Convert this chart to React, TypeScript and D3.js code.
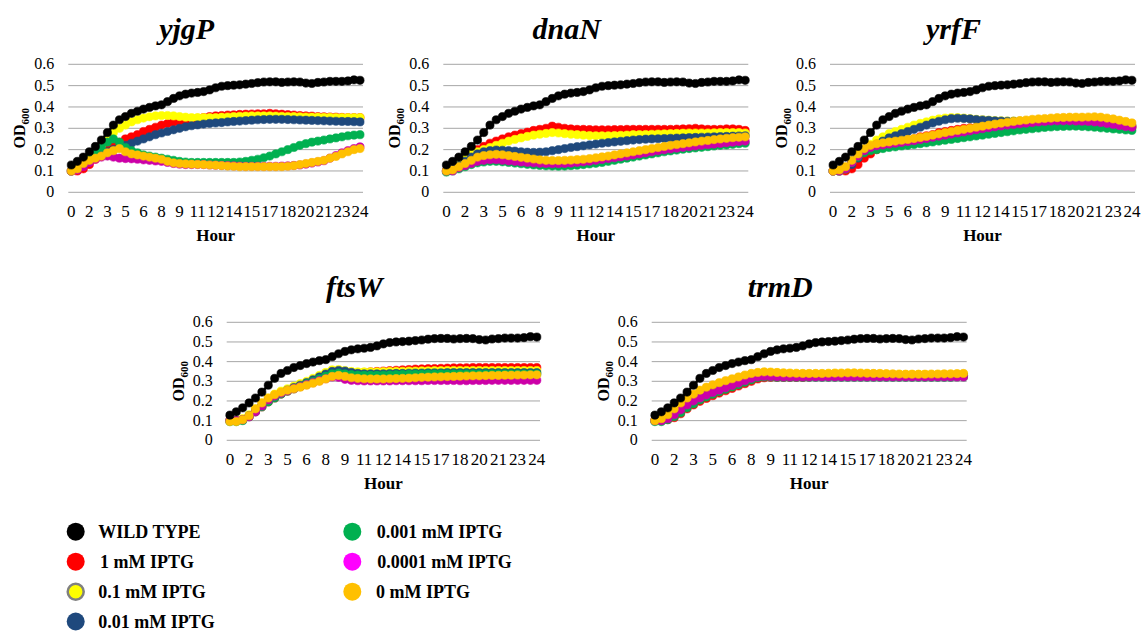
import React from "react";
import * as d3 from "d3";

const FONT = "'Times New Roman', 'Liberation Serif', serif";

// time points (hours), one reading every 30 min
const HOURS = [0,0.5,1,1.5,2,2.5,3,3.5,4,4.5,5,5.5,6,6.5,7,7.5,8,8.5,9,9.5,10,10.5,11,11.5,12,12.5,13,13.5,14,14.5,15,15.5,16,16.5,17,17.5,18,18.5,19,19.5,20,20.5,21,21.5,22,22.5,23,23.5,24];
// category labels shown every 3rd category
const X_TICK_LABELS = ["0","2","3","5","6","8","9","11","12","14","15","17","18","20","21","23","24"];
const Y_TICKS = [0,0.1,0.2,0.3,0.4,0.5,0.6];
const Y_TICK_LABELS = ["0","0.1","0.2","0.3","0.4","0.5","0.6"];
const SERIES_NAMES = ["WILD TYPE","1 mM IPTG","0.1 mM IPTG","0.01 mM IPTG","0.001 mM IPTG","0.0001 mM IPTG","0 mM IPTG"];
const GENES = ["yjgP","dnaN","yrfF","ftsW","trmD"];

const WT = [0.128,0.145,0.165,0.19,0.215,0.245,0.28,0.315,0.34,0.355,
 0.37,0.38,0.39,0.398,0.405,0.41,0.425,0.44,0.452,0.46,
 0.465,0.468,0.472,0.48,0.49,0.497,0.5,0.502,0.504,0.507,
 0.51,0.514,0.517,0.518,0.518,0.515,0.517,0.518,0.517,0.512,
 0.51,0.515,0.517,0.52,0.52,0.52,0.522,0.527,0.525];

const YJGP_1 = [.10,.10,.11,.13,.155,.18,.20,.215,.235,.25,
 .26,.27,.285,.295,.305,.315,.322,.328,.333,.338,
 .343,.347,.35,.355,.358,.36,.362,.363,.365,.366,
 .367,.368,.368,.37,.368,.366,.364,.362,.36,.358,
 .357,.355,.354,.353,.352,.351,.35,.35,.35];
const YJGP_01 = [.10,.11,.13,.16,.19,.22,.25,.28,.30,.315,
 .33,.34,.348,.354,.358,.36,.36,.358,.355,.352,
 .35,.35,.35,.35,.35,.352,.353,.355,.356,.357,
 .358,.358,.358,.358,.357,.356,.355,.355,.354,.353,
 .352,.352,.351,.351,.35,.35,.35,.35,.35];
const YJGP_001 = [.10,.11,.13,.15,.17,.18,.19,.20,.21,.22,
 .23,.24,.25,.26,.27,.278,.285,.293,.30,.307,
 .312,.316,.32,.323,.325,.327,.33,.332,.334,.336,
 .338,.34,.341,.342,.342,.342,.341,.34,.339,.338,
 .337,.336,.335,.334,.333,.332,.332,.331,.33];
const YJGP_0001 = [.10,.11,.13,.16,.19,.21,.235,.25,.235,.21,
 .195,.185,.175,.17,.165,.16,.155,.15,.145,.142,
 .14,.14,.14,.14,.14,.14,.14,.14,.142,.145,
 .15,.155,.162,.17,.18,.19,.20,.21,.22,.228,
 .235,.24,.245,.25,.255,.26,.265,.268,.27];
const YJGP_00001 = [.10,.105,.12,.14,.155,.165,.17,.165,.16,.158,
 .157,.155,.152,.15,.147,.145,.14,.135,.132,.13,
 .13,.13,.13,.128,.127,.126,.125,.124,.123,.122,
 .122,.122,.122,.122,.122,.123,.124,.126,.128,.132,
 .137,.142,.148,.16,.172,.185,.195,.205,.213];
const YJGP_0 = [.10,.11,.135,.15,.16,.17,.185,.195,.205,.19,
 .18,.175,.17,.165,.16,.155,.145,.138,.135,.133,
 .132,.131,.13,.128,.127,.125,.123,.122,.12,.12,
 .12,.12,.12,.12,.12,.12,.122,.125,.13,.135,
 .14,.145,.15,.16,.168,.18,.19,.20,.205];

const DNAN_1 = [.10,.105,.12,.15,.18,.20,.215,.23,.24,.25,
 .26,.268,.275,.282,.29,.295,.30,.31,.305,.30,
 .297,.295,.295,.294,.293,.293,.293,.294,.294,.295,
 .295,.295,.295,.295,.295,.295,.295,.296,.297,.298,
 .30,.297,.295,.295,.295,.297,.297,.295,.29];
const DNAN_01 = [.10,.12,.14,.16,.18,.19,.20,.21,.22,.23,
 .24,.248,.255,.262,.268,.272,.276,.28,.278,.275,
 .272,.27,.268,.266,.265,.265,.265,.266,.267,.268,
 .27,.27,.271,.272,.273,.274,.275,.276,.277,.278,
 .278,.278,.278,.279,.28,.28,.28,.28,.278];
const DNAN_001 = [.10,.11,.125,.145,.165,.18,.19,.195,.198,.197,
 .195,.193,.19,.188,.187,.188,.19,.195,.20,.205,
 .21,.214,.218,.222,.226,.23,.233,.236,.239,.242,
 .245,.247,.249,.25,.251,.252,.253,.254,.255,.256,
 .257,.258,.259,.26,.261,.262,.263,.264,.265];
const DNAN_0001 = [.095,.10,.11,.12,.13,.138,.142,.145,.145,.143,
 .14,.137,.134,.131,.128,.126,.124,.123,.122,.123,
 .125,.127,.13,.133,.136,.14,.145,.15,.155,.16,
 .165,.17,.175,.18,.185,.19,.194,.198,.202,.205,
 .208,.211,.214,.217,.22,.222,.225,.228,.23];
const DNAN_00001 = [.10,.10,.115,.125,.135,.145,.15,.153,.153,.15,
 .147,.145,.142,.14,.138,.136,.135,.134,.134,.135,
 .137,.14,.143,.146,.15,.154,.158,.162,.166,.17,
 .175,.18,.185,.19,.195,.199,.203,.207,.211,.214,
 .217,.22,.223,.226,.229,.232,.235,.238,.24];
const DNAN_0 = [.10,.105,.12,.135,.15,.165,.172,.176,.178,.176,
 .172,.168,.164,.16,.156,.152,.15,.149,.149,.15,
 .151,.153,.155,.158,.162,.166,.17,.175,.18,.185,
 .19,.195,.20,.205,.21,.215,.22,.224,.228,.232,
 .236,.24,.243,.247,.25,.253,.256,.258,.26];

const YRFF_1 = [.10,.10,.10,.11,.13,.16,.18,.20,.215,.225,
 .235,.24,.245,.25,.26,.265,.27,.28,.285,.29,
 .295,.30,.302,.305,.308,.31,.312,.315,.317,.319,
 .32,.322,.324,.326,.328,.33,.33,.33,.328,.325,
 .322,.318,.315,.312,.31,.308,.306,.305,.305];
const YRFF_01 = [.10,.10,.11,.14,.17,.20,.225,.245,.26,.275,
 .285,.295,.305,.315,.323,.33,.338,.344,.348,.35,
 .35,.348,.345,.342,.34,.338,.336,.335,.334,.334,
 .334,.334,.334,.334,.334,.334,.333,.332,.331,.33,
 .328,.326,.324,.322,.32,.318,.316,.313,.31];
const YRFF_001 = [.10,.10,.11,.13,.16,.19,.21,.225,.24,.255,
 .265,.275,.285,.295,.305,.315,.325,.333,.34,.345,
 .347,.346,.344,.341,.339,.337,.335,.334,.333,.333,
 .333,.333,.333,.333,.333,.333,.333,.332,.331,.33,
 .329,.327,.325,.323,.321,.319,.317,.314,.31];
const YRFF_0001 = [.10,.10,.11,.14,.165,.185,.195,.20,.205,.21,
 .213,.217,.22,.224,.228,.232,.236,.24,.244,.248,
 .252,.256,.26,.264,.268,.272,.276,.28,.284,.288,
 .292,.295,.298,.301,.304,.306,.308,.309,.31,.31,
 .309,.307,.305,.302,.30,.297,.295,.292,.29];
const YRFF_00001 = [.10,.10,.11,.14,.17,.195,.21,.218,.222,.226,
 .23,.234,.238,.242,.247,.252,.258,.263,.268,.273,
 .278,.283,.288,.293,.298,.303,.307,.311,.315,.318,
 .321,.324,.327,.33,.332,.334,.335,.335,.335,.334,
 .333,.332,.33,.327,.323,.318,.313,.308,.305];
const YRFF_0 = [.10,.105,.12,.15,.18,.205,.22,.228,.232,.236,
 .24,.244,.248,.252,.257,.262,.268,.274,.28,.285,
 .29,.295,.30,.305,.31,.315,.32,.324,.328,.332,
 .336,.339,.342,.344,.346,.348,.35,.351,.352,.352,
 .352,.353,.354,.352,.348,.344,.338,.332,.325];

const FTSW_1 = [.10,.10,.105,.12,.145,.17,.195,.215,.235,.25,
 .262,.274,.286,.298,.31,.322,.335,.34,.34,.34,
 .342,.345,.348,.35,.352,.354,.356,.358,.36,.362,
 .363,.364,.365,.366,.367,.368,.368,.369,.37,.37,
 .37,.37,.37,.37,.37,.37,.37,.37,.37];
const FTSW_01 = [.10,.10,.11,.13,.16,.19,.215,.235,.25,.262,
 .275,.288,.30,.315,.33,.345,.358,.36,.355,.35,
 .348,.348,.348,.348,.349,.35,.35,.351,.352,.352,
 .353,.353,.354,.354,.355,.355,.355,.355,.355,.355,
 .355,.355,.355,.355,.355,.355,.355,.355,.355];
const FTSW_001 = [.10,.10,.105,.125,.15,.175,.20,.22,.24,.255,
 .268,.28,.293,.308,.322,.337,.35,.355,.352,.345,
 .34,.338,.338,.338,.338,.339,.34,.34,.341,.342,
 .342,.343,.343,.343,.344,.344,.344,.344,.344,.344,
 .344,.344,.344,.344,.344,.344,.344,.344,.344];
const FTSW_0001 = [.095,.095,.10,.12,.145,.17,.195,.215,.235,.25,
 .262,.275,.288,.30,.313,.326,.338,.342,.338,.334,
 .332,.331,.331,.331,.332,.333,.334,.335,.336,.337,
 .337,.338,.338,.338,.338,.338,.338,.338,.338,.338,
 .338,.338,.338,.338,.338,.338,.338,.338,.338];
const FTSW_00001 = [.10,.10,.105,.12,.145,.175,.205,.225,.24,.252,
 .263,.273,.283,.293,.303,.313,.322,.32,.31,.305,
 .303,.302,.302,.302,.302,.302,.303,.303,.303,.303,
 .303,.304,.304,.304,.304,.304,.303,.303,.304,.304,
 .304,.305,.305,.305,.305,.305,.305,.305,.305];
const FTSW_0 = [.095,.095,.105,.125,.16,.19,.215,.232,.245,.255,
 .262,.27,.28,.29,.30,.312,.325,.33,.325,.318,
 .315,.313,.312,.312,.312,.313,.314,.315,.316,.318,
 .32,.321,.322,.323,.324,.325,.326,.327,.328,.328,
 .329,.33,.33,.331,.331,.332,.332,.333,.333];

const TRMD_1 = [.10,.10,.105,.115,.135,.16,.18,.198,.213,.227,
 .24,.252,.264,.276,.288,.30,.312,.318,.32,.32,
 .32,.32,.32,.32,.322,.324,.326,.328,.33,.332,
 .335,.337,.338,.338,.337,.335,.333,.332,.33,.33,
 .33,.33,.33,.33,.33,.33,.33,.33,.33];
const TRMD_01 = [.10,.11,.125,.15,.18,.205,.225,.245,.26,.273,
 .285,.296,.307,.317,.327,.336,.342,.346,.345,.343,
 .341,.34,.339,.338,.338,.338,.338,.339,.34,.34,
 .34,.34,.34,.339,.338,.337,.336,.335,.335,.335,
 .335,.335,.335,.335,.335,.335,.336,.336,.336];
const TRMD_001 = [.10,.105,.12,.14,.165,.19,.21,.228,.243,.256,
 .268,.28,.292,.303,.314,.325,.333,.336,.335,.333,
 .331,.33,.33,.33,.33,.33,.33,.33,.33,.33,
 .33,.33,.33,.33,.33,.33,.33,.33,.33,.33,
 .33,.33,.33,.33,.33,.33,.33,.33,.33];
const TRMD_0001 = [.095,.095,.105,.12,.14,.165,.185,.205,.22,.234,
 .247,.259,.271,.283,.295,.307,.318,.322,.322,.32,
 .32,.32,.32,.32,.32,.32,.32,.32,.32,.32,
 .32,.32,.32,.32,.32,.32,.32,.32,.32,.32,
 .32,.32,.32,.32,.32,.32,.32,.322,.322];
const TRMD_00001 = [.10,.10,.11,.13,.155,.18,.20,.215,.23,.243,
 .255,.267,.279,.291,.303,.315,.323,.326,.325,.323,
 .322,.322,.322,.322,.322,.322,.322,.322,.322,.322,
 .322,.322,.322,.322,.322,.322,.322,.322,.322,.322,
 .322,.322,.322,.322,.322,.322,.322,.322,.322];
const TRMD_0 = [.10,.11,.13,.16,.19,.215,.235,.255,.27,.282,
 .293,.303,.313,.322,.332,.34,.345,.348,.347,.345,
 .343,.342,.341,.34,.34,.34,.34,.341,.342,.342,
 .343,.343,.342,.341,.34,.34,.339,.338,.337,.336,
 .336,.336,.336,.337,.337,.338,.338,.339,.34];

const GENE_SERIES = [
  [WT, YJGP_1, YJGP_01, YJGP_001, YJGP_0001, YJGP_00001, YJGP_0],
  [WT, DNAN_1, DNAN_01, DNAN_001, DNAN_0001, DNAN_00001, DNAN_0],
  [WT, YRFF_1, YRFF_01, YRFF_001, YRFF_0001, YRFF_00001, YRFF_0],
  [WT, FTSW_1, FTSW_01, FTSW_001, FTSW_0001, FTSW_00001, FTSW_0],
  [WT, TRMD_1, TRMD_01, TRMD_001, TRMD_0001, TRMD_00001, TRMD_0],
];

// styling
const LINE_COLORS = ["#000000","#ff0000","#ffff00","#1f497d","#00b050","#cc00a8","#ffc000"];
const LEGEND_COLORS = ["#000000","#ff0000","#ffff00","#1f497d","#00b050","#ff00ff","#ffc000"];
const LAYOUT = [
  { x0: 68.3, x1: 363, yTop: 64.3, yBot: 192.3 },
  { x0: 443.3, x1: 748.3, yTop: 64.3, yBot: 192.3 },
  { x0: 830, x1: 1135, yTop: 64.3, yBot: 192.3 },
  { x0: 226.7, x1: 540, yTop: 322.3, yBot: 440.3 },
  { x0: 651.7, x1: 966.7, yTop: 322.3, yBot: 440.3 },
];
const LEGEND_POS = [
  { cx: 75.7, cy: 531.7, tx: 98.3 },
  { cx: 75.7, cy: 561.7, tx: 100 },
  { cx: 75.7, cy: 591.7, tx: 98.3 },
  { cx: 75.7, cy: 621.5, tx: 98.3 },
  { cx: 352.3, cy: 531.7, tx: 376.7 },
  { cx: 352.3, cy: 561.7, tx: 377.3 },
  { cx: 352.3, cy: 591.7, tx: 376 },
];
const DRAW_ORDER = [1, 2, 3, 4, 5, 6, 0];

function Panel({ idx }: { idx: number }) {
  const L = LAYOUT[idx];
  const series = GENE_SERIES[idx];
  const x = d3.scalePoint<number>().domain(HOURS).range([L.x0, L.x1]).padding(0.5);
  const y = d3.scaleLinear().domain([0, 0.6]).range([L.yBot, L.yTop]);
  const line = d3.line<number>().x((_, i) => x(HOURS[i]) as number).y((d) => y(d));
  const midY = (L.yTop + L.yBot) / 2;
  const midX = (L.x0 + L.x1) / 2;
  return (
    <g>
      <text x={midX - 29} y={L.yTop - 25} textAnchor="middle" fontFamily={FONT} fontSize={30} fontWeight="bold" fontStyle="italic">{GENES[idx]}</text>
      {Y_TICKS.map((t, i) => (
        <g key={"g" + i}>
          <line x1={L.x0} x2={L.x1} y1={y(t)} y2={y(t)} stroke="#a6a6a6" strokeWidth={1} />
          <text x={L.x0 - 14} y={y(t) + 5} textAnchor="end" fontFamily={FONT} fontSize={16}>{Y_TICK_LABELS[i]}</text>
        </g>
      ))}
      {X_TICK_LABELS.map((lab, i) => (
        <text key={"x" + i} x={x(HOURS[i * 3]) as number} y={L.yBot + 25} textAnchor="middle" fontFamily={FONT} fontSize={17}>{lab}</text>
      ))}
      <text x={midX} y={L.yBot + 49} textAnchor="middle" fontFamily={FONT} fontSize={17} fontWeight="bold">Hour</text>
      <text transform={`translate(${L.x0 - 43},${midY}) rotate(-90)`} textAnchor="middle" fontFamily={FONT} fontSize={16} fontWeight="bold">
        OD<tspan fontSize={11} dy={4}>600</tspan>
      </text>
      {DRAW_ORDER.map((s) => (
        <g key={"s" + s}>
          <path d={line(series[s]) || ""} fill="none" stroke={LINE_COLORS[s]} strokeWidth={2.5} />
          {series[s].map((v, i) => (
            <circle key={i} cx={x(HOURS[i]) as number} cy={y(v)} r={4.1} fill={LINE_COLORS[s]} stroke={LINE_COLORS[s]} strokeWidth={0.6} />
          ))}
        </g>
      ))}
    </g>
  );
}

export default function App() {
  return (
    <svg width={1141} height={632} style={{ position: "absolute", left: 0, top: 0, background: "#fff" }}>
      <rect x={0} y={0} width={1141} height={632} fill="#fff" />
      {GENES.map((_, i) => <Panel key={i} idx={i} />)}
      {SERIES_NAMES.map((name, i) => {
        const p = LEGEND_POS[i];
        return (
          <g key={"l" + i}>
            <circle cx={p.cx} cy={p.cy} r={i === 2 ? 8 : 9} fill={LEGEND_COLORS[i]} stroke={i === 2 ? "#808080" : "none"} strokeWidth={i === 2 ? 2.5 : 0} />
            <text x={p.tx} y={p.cy + 6.5} fontFamily={FONT} fontSize={18} fontWeight="bold">{name}</text>
          </g>
        );
      })}
    </svg>
  );
}
